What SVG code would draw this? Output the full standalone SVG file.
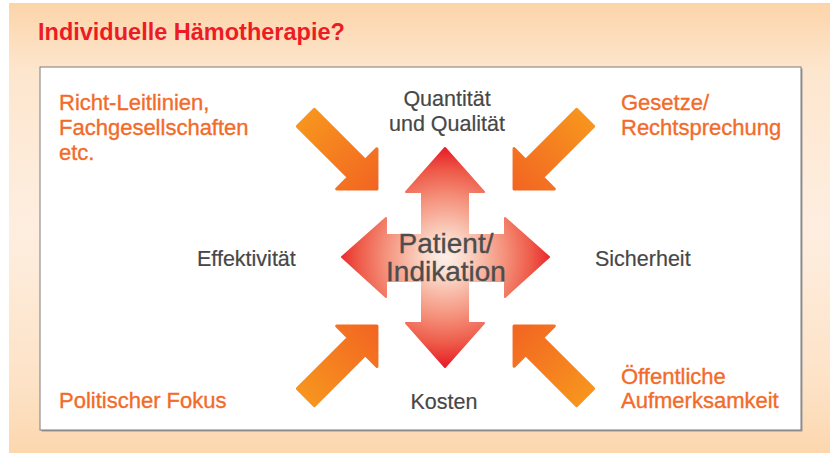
<svg xmlns="http://www.w3.org/2000/svg" width="830" height="455" viewBox="0 0 830 455">
  <defs>
    <linearGradient id="bgGrad" x1="0" y1="0" x2="0" y2="1">
      <stop offset="0" stop-color="#fcd4a9"/>
      <stop offset="0.15" stop-color="#fde6ce"/>
      <stop offset="0.5" stop-color="#feeee0"/>
      <stop offset="0.85" stop-color="#fde2c6"/>
      <stop offset="1" stop-color="#fcd7ae"/>
    </linearGradient>
    <linearGradient id="orangeGrad" x1="0" y1="0" x2="1" y2="0">
      <stop offset="0" stop-color="#f7941e"/>
      <stop offset="1" stop-color="#f26522"/>
    </linearGradient>
    <radialGradient id="crossGrad" gradientUnits="userSpaceOnUse" cx="445" cy="257" r="108">
      <stop offset="0" stop-color="#fdf0ea"/>
      <stop offset="0.2" stop-color="#fbd6c6"/>
      <stop offset="0.55" stop-color="#f4927c"/>
      <stop offset="0.8" stop-color="#ee5b49"/>
      <stop offset="1" stop-color="#e8202a"/>
    </radialGradient>
    <!-- inward arrow, tip at origin, pointing along +x -->
    <path id="inArrow" d="M-1.5,0 L-30,-28.5 L-30,-12 L-102,-12 L-102,12 L-30,12 L-30,28.5 Z"/>
  </defs>
  <style>
    .title { font-family: "Liberation Sans", Arial, sans-serif; font-weight: bold; font-size: 23.5px; fill: #ed1c24; }
    .orange { font-family: "Liberation Sans", Arial, sans-serif; font-size: 22px; fill: #f26b2a; stroke: #f26b2a; stroke-width: 0.35; }
    .grey { font-family: "Liberation Sans", Arial, sans-serif; font-size: 21.5px; fill: #474747; stroke: #474747; stroke-width: 0.2; }
    .center { font-family: "Liberation Sans", Arial, sans-serif; font-size: 28px; fill: #4d4d4d; stroke: #4d4d4d; stroke-width: 0.35; }
    .arrow { fill: url(#orangeGrad); stroke: url(#orangeGrad); stroke-width: 3; stroke-linejoin: round; }
  </style>

  <!-- panel background -->
  <rect x="9" y="3" width="821" height="450" fill="url(#bgGrad)"/>
  <text class="title" x="38" y="40">Individuelle Hämotherapie?</text>

  <!-- inner white frame with drop shadow -->
  <rect x="41.5" y="68.5" width="761" height="363" fill="#9a9a9a"/>
  <rect x="40" y="67" width="761" height="363" fill="#ffffff" stroke="#7d7d7d" stroke-width="1"/>

  <g id="connectors">
    <use href="#inArrow" class="arrow" transform="translate(378,190) rotate(45)"/>
    <use href="#inArrow" class="arrow" transform="translate(513,190) rotate(135)"/>
    <use href="#inArrow" class="arrow" transform="translate(378,325) rotate(-45)"/>
    <use href="#inArrow" class="arrow" transform="translate(513,325) rotate(-135)"/>
  </g>

  <g id="patient">
    <path d="M445,148 L484,192 L468,192 L468,235 L505,235 L505,218 L549,257 L505,297 L505,281 L468,281 L468,323 L484,323 L445,367 L406,323 L422,323 L422,281 L386,281 L386,297 L342,257 L386,218 L386,235 L422,235 L422,192 L406,192 Z" fill="url(#crossGrad)" stroke="url(#crossGrad)" stroke-width="2" stroke-linejoin="round"/>
    <text class="center" x="446" y="253" text-anchor="middle">Patient/</text>
    <text class="center" x="446" y="281" text-anchor="middle">Indikation</text>
  </g>

  <g id="richtlinien">
    <text class="orange" x="59" y="110">Richt-Leitlinien,</text>
    <text class="orange" x="59" y="135">Fachgesellschaften</text>
    <text class="orange" x="59" y="160">etc.</text>
  </g>
  <g id="gesetze">
    <text class="orange" x="621" y="110">Gesetze/</text>
    <text class="orange" x="621" y="135">Rechtsprechung</text>
  </g>
  <g id="politik">
    <text class="orange" x="59" y="408">Politischer Fokus</text>
  </g>
  <g id="oeffentlichkeit">
    <text class="orange" x="621" y="384">Öffentliche</text>
    <text class="orange" x="621" y="408">Aufmerksamkeit</text>
  </g>

  <g id="quantitaet">
    <text class="grey" x="447" y="106" text-anchor="middle">Quantität</text>
    <text class="grey" x="447" y="131" text-anchor="middle">und Qualität</text>
  </g>
  <g id="effektivitaet">
    <text class="grey" x="197" y="266">Effektivität</text>
  </g>
  <g id="sicherheit">
    <text class="grey" x="595" y="266">Sicherheit</text>
  </g>
  <g id="kosten">
    <text class="grey" x="444" y="409" text-anchor="middle">Kosten</text>
  </g>
</svg>
